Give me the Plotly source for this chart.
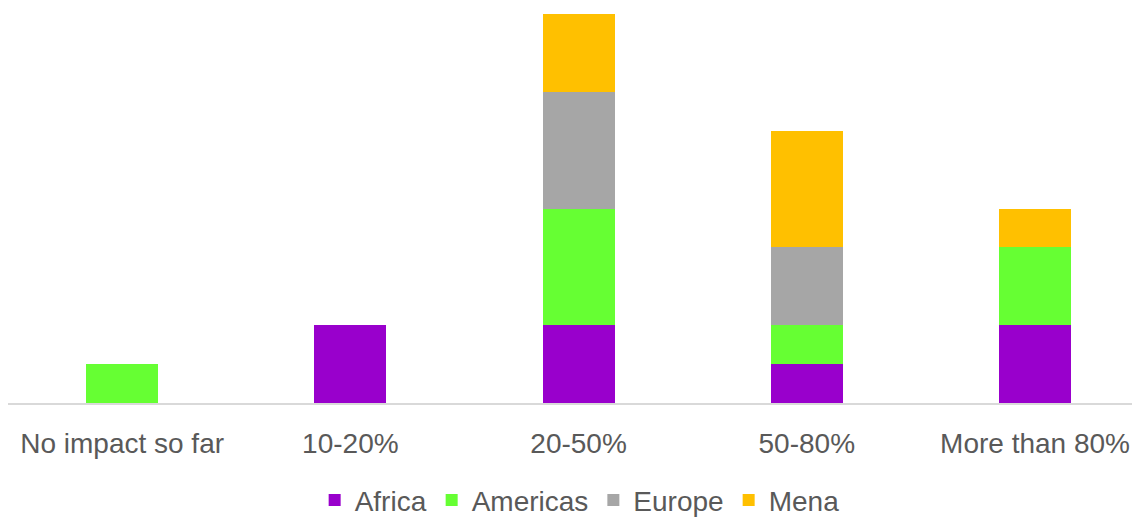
import plotly.graph_objects as go

categories = ["No impact so far", "10-20%", "20-50%", "50-80%", "More than 80%"]
africa = [0, 2, 2, 1, 2]
americas = [1, 0, 3, 1, 2]
europe = [0, 0, 3, 2, 0]
mena = [0, 0, 2, 3, 1]

series = [("Africa", africa, "#9900CC"), ("Americas", americas, "#66FF33"),
          ("Europe", europe, "#A6A6A6"), ("Mena", mena, "#FFC000")]

FONT = "Liberation Sans Narrow, Arial Narrow, Liberation Sans, Arial, sans-serif"

fig = go.Figure()
for name, vals, col in series:
    fig.add_trace(go.Bar(x=list(range(len(categories))), y=vals, name=name,
                         marker=dict(color=col, line=dict(width=0))))

fig.update_layout(
    barmode="stack", bargap=0.684,
    width=1132, height=509,
    margin=dict(l=0, r=0, t=6, b=114, autoexpand=False),
    paper_bgcolor="white", plot_bgcolor="white",
    font=dict(family=FONT, size=28, color="#595959"),
    showlegend=True,
    legend=dict(orientation="h", x=0.505, xanchor="center", y=0.033, yanchor="middle",
                yref="container", xref="container",
                font=dict(size=28, color="#595959"), traceorder="normal",
                itemwidth=30),
    xaxis=dict(tickmode="array", tickvals=list(range(len(categories))), ticktext=categories,
               range=[-0.5, 4.46], showgrid=False, showline=True, linecolor="#D9D9D9",
               linewidth=2, ticks="", ticklabelstandoff=14, zeroline=False,
               automargin=False),
    yaxis=dict(range=[0, 10], visible=False, showgrid=False, zeroline=False,
               automargin=False),
)
fig.write_html("out.html")
